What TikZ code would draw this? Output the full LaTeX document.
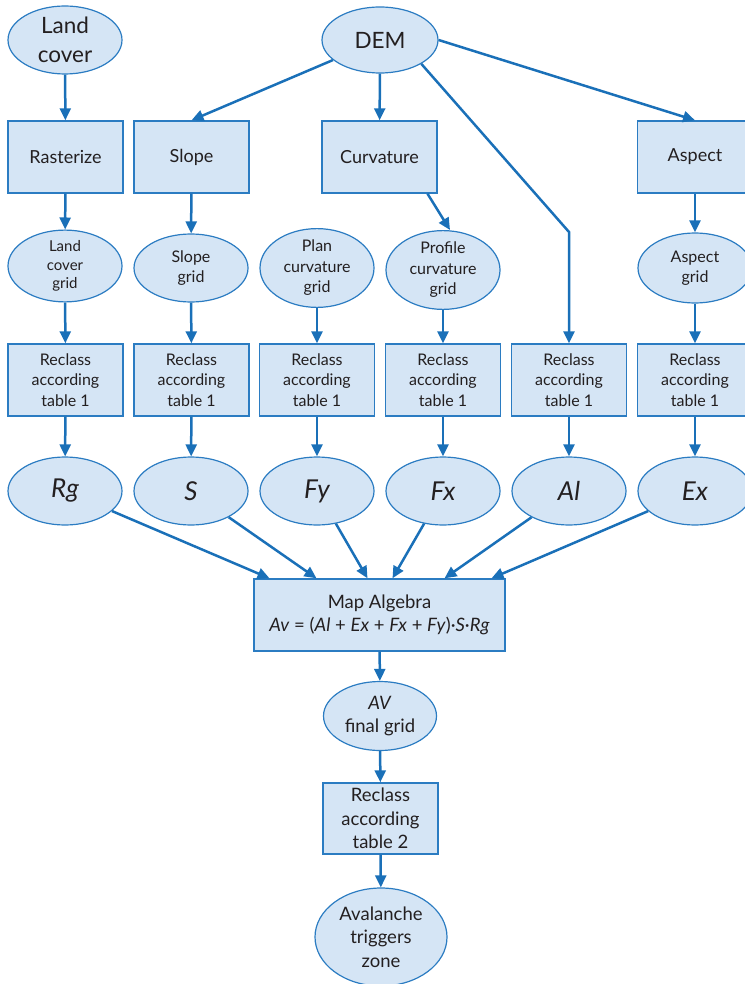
\documentclass[tikz,border=0pt]{standalone}
\usepackage{fontspec}
\setmainfont{Lato}
\usetikzlibrary{shapes.geometric,arrows.meta,calc}
\definecolor{fillb}{HTML}{D5E5F5}
\definecolor{lineb}{HTML}{2B7CC2}
\definecolor{arrb}{HTML}{1A70B8}
\definecolor{txt}{HTML}{231F20}
\begin{document}
\begin{tikzpicture}[x=1pt,y=-1pt,
  ell/.style={ellipse,draw=lineb,fill=fillb,line width=1.2pt,inner sep=0pt,
    minimum width=114pt,minimum height=68pt,align=center,text=txt},
  box/.style={rectangle,draw=lineb,fill=fillb,line width=1.4pt,inner sep=0pt,
    minimum width=115pt,minimum height=72pt,align=center,text=txt},
  arr/.style={draw=arrb,line width=2.5pt,-{Triangle[length=12pt,width=11pt]}},
  bigtxt/.style={font=\fontsize{22.5}{29}\selectfont},
  midtxt/.style={font=\fontsize{18}{22}\selectfont},
  smalltxt/.style={font=\fontsize{16}{20.5}\selectfont},
  tinytxt/.style={font=\fontsize{15}{18.5}\selectfont},
  vartxt/.style={font=\fontsize{26}{30}\selectfont\itshape},
  lowtxt/.style={font=\fontsize{18.5}{23.5}\selectfont},
  formtxt/.style={font=\fontsize{18.5}{23}\selectfont}
]
\useasboundingbox (0,0) rectangle (744,984);

% top
\node[ell,bigtxt] (land) at (65,40) {Land\\cover};
\node[ell,bigtxt,minimum width=116pt,minimum height=66pt] (dem) at (380,40) {DEM};

% row 1 boxes
\node[box,midtxt] (rast) at (65.5,157) {Rasterize};
\node[box,midtxt] (slope) at (191.5,157) {Slope};
\node[box,midtxt] (curv) at (379.5,157) {Curvature};
\node[box,midtxt] (aspect) at (695,157) {Aspect};

% row 2 ellipses
\node[ell,tinytxt] (lcg) at (65,266) {Land\\cover\\grid};
\node[ell,smalltxt] (sg) at (191,268) {Slope\\grid};
\node[ell,smalltxt,minimum height=70pt] (pcg) at (317,268) {Plan\\curvature\\grid};
\node[ell,smalltxt,minimum height=72pt] (prg) at (443,270) {Profile\\curvature\\grid};
\node[ell,smalltxt,minimum height=70pt] (ag) at (695,268) {Aspect\\grid};

% row 3 boxes
\node[box,smalltxt] (r1) at (65.5,380) {Reclass\\according\\table 1};
\node[box,smalltxt] (r2) at (191.5,380) {Reclass\\according\\table 1};
\node[box,smalltxt] (r3) at (317,380) {Reclass\\according\\table 1};
\node[box,smalltxt] (r4) at (443,380) {Reclass\\according\\table 1};
\node[box,smalltxt] (r5) at (569,380) {Reclass\\according\\table 1};
\node[box,smalltxt] (r6) at (695,380) {Reclass\\according\\table 1};

% row 4 ellipses
\node[ell,vartxt] (rg) at (65,491) {Rg};
\node[ell,vartxt] (s) at (191,491) {S};
\node[ell,vartxt] (fy) at (317,491) {Fy};
\node[ell,vartxt] (fx) at (443,491) {Fx};
\node[ell,vartxt] (al) at (569,491) {Al};
\node[ell,vartxt] (ex) at (695,491) {Ex};

% map algebra
\node[box,formtxt,minimum width=251pt] (map) at (379.5,615)
  {Map Algebra\\\textit{Av} = (\textit{Al} + \textit{Ex} + \textit{Fx} + \textit{Fy})·\textit{S}·\textit{Rg}};

\node[ell,lowtxt,minimum width=113pt,minimum height=69pt] (av) at (380,716) {\textit{AV}\\final grid};
\node[box,lowtxt,minimum height=71pt] (r7) at (380.5,818.5) {Reclass\\according\\table 2};
\node[ell,lowtxt,minimum width=132pt,minimum height=98pt] (aval) at (381,937) {Avalanche\\triggers\\zone};

\coordinate (bend) at (569,232);

% connectors
\draw[arr] (land) -- (rast);
\draw[arr] (dem) -- (slope.north);
\draw[arr] (dem) -- (curv);
\draw[arr] (dem.east) -- (aspect.north);
\draw[arr] (dem.-30) -- (bend) -- (r5.north);
\draw[arr] ([xshift=48pt]curv.south) -- ([xshift=7pt]prg.north);

\draw[arr] (rast) -- (lcg);
\draw[arr] (lcg) -- (r1);
\draw[arr] (r1) -- (rg);
\draw[arr] (slope) -- (sg);
\draw[arr] (sg) -- (r2);
\draw[arr] (r2) -- (s);
\draw[arr] (pcg) -- (r3);
\draw[arr] (r3) -- (fy);
\draw[arr] (prg) -- (r4);
\draw[arr] (r4) -- (fx);
\draw[arr] (r5) -- (al);
\draw[arr] (aspect) -- (ag);
\draw[arr] (ag) -- (r6);
\draw[arr] (r6) -- (ex);

\draw[arr] (rg) -- ([xshift=-110pt]map.north);
\draw[arr] (s) -- ([xshift=-63pt]map.north);
\draw[arr] (fy) -- ([xshift=-12pt]map.north);
\draw[arr] (fx) -- ([xshift=13pt]map.north);
\draw[arr] (al) -- ([xshift=65pt]map.north);
\draw[arr] (ex) -- ([xshift=112pt]map.north);

\draw[arr] (map) -- (av);
\draw[arr] (av) -- (r7);
\draw[arr] (r7) -- (aval);
\end{tikzpicture}
\end{document}
